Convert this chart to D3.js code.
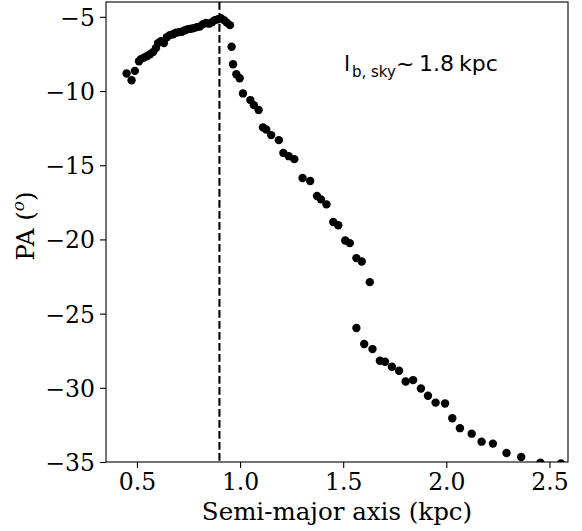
<!DOCTYPE html>
<html><head><meta charset="utf-8">
<script src="https://cdn.jsdelivr.net/npm/d3@7"></script>
<style>body{margin:0;background:#fff}svg{display:block}</style>
</head><body>
<script>
const semiMajor = [0.450,0.474,0.490,0.510,0.519,0.534,0.548,0.563,0.578,0.592,0.602,0.616,0.631,0.645,0.660,0.675,0.689,0.704,0.718,0.733,0.747,0.762,0.776,0.791,0.805,0.820,0.835,0.849,0.864,0.878,0.893,0.907,0.922,0.936,0.951,
0.959,0.966,0.982,0.998,1.014,1.050,1.067,1.090,1.111,1.127,1.151,1.188,1.210,1.236,1.263,1.303,1.340,1.373,1.392,1.419,1.452,1.476,1.510,1.532,1.564,1.590,1.629,
1.564,1.602,1.642,1.678,1.703,1.736,1.771,1.803,1.839,1.877,1.911,1.948,1.994,2.029,2.066,2.123,2.171,2.226,2.292,2.363,2.456,2.556];
const positionAngle = [-8.82,-9.27,-8.64,-7.99,-7.85,-7.75,-7.65,-7.52,-7.38,-7.11,-6.77,-6.64,-6.77,-6.37,-6.23,-6.17,-6.07,-6.03,-6.00,-5.90,-5.83,-5.80,-5.76,-5.69,-5.66,-5.49,-5.42,-5.46,-5.36,-5.22,-5.16,-5.09,-5.22,-5.39,-5.56,
-7.02,-8.20,-8.87,-9.14,-10.16,-10.61,-10.95,-11.28,-12.45,-12.59,-12.97,-13.31,-14.17,-14.39,-14.59,-15.86,-16.06,-17.07,-17.30,-17.64,-18.83,-19.05,-20.07,-20.25,-21.26,-21.49,-22.88,
-25.97,-27.05,-27.39,-28.18,-28.24,-28.58,-28.85,-29.57,-29.48,-30.05,-30.54,-31.00,-31.06,-32.05,-32.72,-33.09,-33.63,-33.76,-34.39,-34.66,-35.05,-35.10];
const xTicks = [0.5,1.0,1.5,2.0,2.5];
const yTicks = [-5,-10,-15,-20,-25,-30,-35];
const barRadius = 0.9;
const xDomain = [0.35, 2.59];
const yDomain = [-35, -4.0];

const W = 582, H = 531;
const L = 106, R = 568, T = 2, B = 462;
const svg = d3.select("body").append("svg").attr("width", W).attr("height", H);
const x = d3.scaleLinear().domain(xDomain).range([L, R]);
const y = d3.scaleLinear().domain(yDomain).range([B, T]);

svg.append("clipPath").attr("id","clip").append("rect")
  .attr("x", L).attr("y", T).attr("width", R-L).attr("height", B-T);

const serif = "'DejaVu Serif', serif";
const plot = svg.append("g").attr("clip-path","url(#clip)");

plot.append("line")
  .attr("x1", x(barRadius)).attr("x2", x(barRadius))
  .attr("y1", T).attr("y2", B)
  .attr("stroke","#000").attr("stroke-width",2.1)
  .attr("stroke-dasharray","7.7,3.3");

plot.selectAll("circle").data(semiMajor.map((d,i)=>[d, positionAngle[i]]))
  .enter().append("circle")
  .attr("cx", d=>x(d[0])).attr("cy", d=>y(d[1])).attr("r", 4.2).attr("fill","#000");

// axes
const xAxis = d3.axisBottom(x).tickValues(xTicks).tickSize(6).tickPadding(5).tickFormat(d=>d.toFixed(1));
const yAxis = d3.axisLeft(y).tickValues(yTicks).tickSize(6).tickPadding(5).tickFormat(d=>"\u2212"+Math.abs(d));
const gx = svg.append("g").attr("transform",`translate(0,${B})`).call(xAxis);
const gy = svg.append("g").attr("transform",`translate(${L},0)`).call(yAxis);
[gx, gy].forEach(g=>{
  g.select(".domain").remove();
  g.selectAll(".tick line").attr("stroke","#000").attr("stroke-width",1.1);
  g.selectAll(".tick text").attr("font-family", serif).attr("font-size", 23.5).attr("fill","#000");
});
gx.selectAll(".tick text").attr("dy", "0.74em");
gy.selectAll(".tick text").attr("dy", "0.36em");

svg.append("rect").attr("x",L).attr("y",T).attr("width",R-L).attr("height",B-T)
  .attr("fill","none").attr("stroke","#000").attr("stroke-width",1.1);

// axis labels
svg.append("text").attr("x",(L+R)/2).attr("y",520).attr("text-anchor","middle")
  .attr("font-family",serif).attr("font-size",24.5).attr("fill","#000")
  .text("Semi-major axis (kpc)");

const yl = svg.append("text").attr("transform",`translate(34,226) rotate(-90)`)
  .attr("text-anchor","middle").attr("font-family",serif).attr("font-size",24.5).attr("fill","#000");
yl.append("tspan").text("PA (");
yl.append("tspan").attr("font-size",17).attr("font-style","italic").attr("dy",-10).text("o");
yl.append("tspan").attr("dy",10).text(")");

// annotation
const sans = "'DejaVu Sans', sans-serif";
const ann = svg.append("text").attr("font-family",sans).attr("fill","#000").attr("font-size",22);
ann.append("tspan").attr("x",344).attr("y",71).text("l");
ann.append("tspan").attr("x",352).attr("y",77).attr("font-size",15).text("b, sky");
ann.append("tspan").attr("x",396).attr("y",71).attr("font-size",22).text("~");
ann.append("tspan").attr("x",419).attr("y",71).text("1.8");
ann.append("tspan").attr("x",459).attr("y",71).text("kpc");
</script>
</body></html>
